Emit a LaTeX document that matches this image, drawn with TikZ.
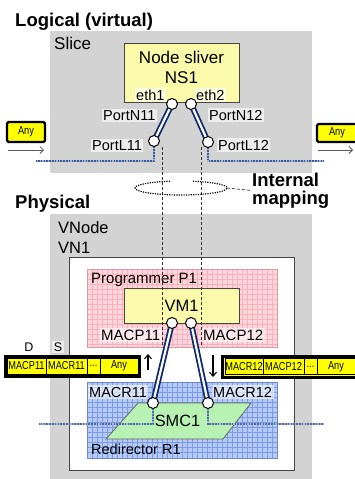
\documentclass[tikz,border=0pt]{standalone}
\usepackage{fontspec}
\setmainfont{Liberation Sans}
\usetikzlibrary{arrows.meta}

\definecolor{slicegray}{HTML}{D3D3D3}
\definecolor{nodeyellow}{HTML}{FAFAAA}
\definecolor{tagyellow}{HTML}{FFFF00}
\definecolor{navylink}{HTML}{0D2A6E}
\definecolor{boxedge}{HTML}{454545}
\definecolor{pinkfill}{HTML}{FFD6DC}
\definecolor{pinkline}{HTML}{F9B0BD}
\definecolor{pinkedge}{HTML}{D99AA4}
\definecolor{bluefill}{HTML}{B6CAF7}
\definecolor{blueline}{HTML}{7C9BE0}
\definecolor{blueedge}{HTML}{6C88C8}
\definecolor{greenfill}{HTML}{B8F2B3}
\definecolor{wirecol}{HTML}{3A5A9C}

\newcommand\nrw[1]{\scalebox{0.8}[1]{#1}}

\pgfdeclarelayer{back}
\pgfdeclarelayer{mid}
\pgfsetlayers{back,mid,main}

\tikzset{
  fsz/.style={font=\fontsize{#1}{20}\selectfont},
  bfsz/.style={font=\fontsize{#1}{18}\selectfont\bfseries},
  ybox/.style={draw=boxedge, fill=nodeyellow, line width=0.8pt, inner sep=0pt},
  port/.style={circle, draw=black, fill=white, line width=1pt, minimum size=11pt, inner sep=0pt},
  link/.style={draw=navylink, line width=1.8pt, double=white, double distance=2.2pt},
  lbl/.style={fill=white, fill opacity=0.6, text opacity=1, inner sep=1.5pt, fsz=14.5, anchor=base west},
  wire/.style={draw=wirecol, line width=2.4pt, dash pattern=on 1.6pt off 1.2pt,
    preaction={draw=wirecol!45, solid, line width=2.4pt}},
  guide/.style={draw=black!80, line width=0.7pt, dash pattern=on 3pt off 2pt},
  tag/.style={draw=black, line width=2.4pt, fill=tagyellow, rounded corners=1.5pt, inner sep=0pt},
  frame/.style={draw=black, line width=3pt, fill=tagyellow, inner sep=0pt},
  cell/.style={draw=black, line width=0.7pt, fill=tagyellow, inner sep=0pt, minimum height=16pt,
    font=\fontsize{11.5}{12}\selectfont},
  flow/.style={draw=black!65, line width=0.8pt, -{Straight Barb[length=3.5pt,width=7pt]}},
  dir/.style={draw=black, line width=1.1pt, -{Straight Barb[length=4pt,width=7pt]}},
}

\begin{document}
\begin{tikzpicture}[x=1pt,y=-1pt]
\useasboundingbox (0,0) rectangle (354,479);

% ---------- areas ----------
\begin{pgfonlayer}{back}
  \fill[slicegray] (50,31) rectangle (312,173);
  \fill[slicegray] (50,214) rectangle (312,479);
  \draw[fill=white, draw=boxedge, line width=0.8pt] (69,257) rectangle (294,470);
  % programmer area with grid
  \fill[pinkfill] (87,269) rectangle (277,347);
  \foreach \gx in {92,97,...,272} \draw[pinkline, line width=0.5pt] (\gx,269) -- (\gx,347);
  \foreach \gy in {274,279,...,344} \draw[pinkline, line width=0.5pt] (87,\gy) -- (277,\gy);
  \draw[pinkedge, line width=0.8pt] (87,269) rectangle (277,347);
  % redirector area with grid
  \fill[bluefill] (87,382) rectangle (277,458);
  \foreach \gx in {92,97,...,272} \draw[blueline, line width=0.5pt] (\gx,382) -- (\gx,458);
  \foreach \gy in {387,392,...,455} \draw[blueline, line width=0.5pt] (87,\gy) -- (277,\gy);
  \draw[blueedge, line width=0.8pt] (87,382) rectangle (277,458);
  % node sliver and VM
  \node[ybox, minimum width=115pt, minimum height=59pt] (ns) at (181.5,72.5) {};
  \node[ybox, minimum width=115pt, minimum height=35pt, fsz=16.5] (vm) at (181.5,305.5) {VM1};
  % switch
  \draw[fill=greenfill, draw=black!60, line width=0.8pt] (138,403) -- (251,403) -- (223,439) -- (106,439) -- cycle;
\end{pgfonlayer}

% ---------- headings and texts ----------
\node[bfsz=18.5, anchor=base west, inner sep=0pt] (hlog) at (15,26) {Logical (virtual)};
\node[fsz=17, anchor=base west, inner sep=0pt] (slice) at (54,49) {Slice};
\node[fsz=17, align=center, anchor=north, inner sep=0pt] (nstext) at (181.5,50.6) {Node sliver\\NS1};
\node[bfsz=18.5, anchor=base west, inner sep=0pt] (hphy) at (15,208) {Physical};
\node[fsz=16.5, align=left, anchor=north west, inner sep=0pt] (vnode) at (58,221) {VNode\\VN1};
\node[fsz=15, anchor=base west, inner sep=0pt] (prog) at (91,283) {Programmer P1};
\node[fsz=14.5, anchor=base west, inner sep=0pt] (redir) at (91,454) {Redirector R1};
\node[fsz=16.3, anchor=base, inner sep=0pt] (smc) at (177.5,426.7) {SMC1};
\node[bfsz=18.5, align=left, anchor=north west, inner sep=0pt] (imap) at (252,172.5) {Internal\\mapping};

% ---------- port labels ----------
\node[lbl] (leth1) at (134.5,100) {eth1};
\node[lbl] (leth2) at (194.5,100) {eth2};
\node[lbl] (lpn11) at (101.5,120) {PortN11};
\node[lbl] (lpl11) at (90.5,150) {PortL11};
\node[lbl] (lpn12) at (207.5,120) {PortN12};
\node[lbl] (lpl12) at (216.5,150) {PortL12};
\node[lbl, fsz=15] (lmp11) at (99.5,340) {MACP11};
\node[lbl, fsz=15] (lmp12) at (201.5,340) {MACP12};
\node[lbl, fsz=14.5] (lmr11) at (87.5,397) {MACR11};
\node[lbl, fsz=14.5] (lmr12) at (211.5,397) {MACR12};

% ---------- ports ----------
\node[port] (eth1) at (172,104) {};
\node[port] (eth2) at (191,104) {};
\node[port] (pl11) at (154,141) {};
\node[port] (pl12) at (208,142) {};
\node[port] (mp11) at (172,323) {};
\node[port] (mp12) at (191,323) {};
\node[port] (mr11) at (153,403) {};
\node[port] (mr12) at (208,403) {};

% ---------- links and wires ----------
\coordinate (wl1) at (36,161);
\coordinate (wr1) at (324,161);
\coordinate (wl2) at (39,424);
\coordinate (wr2) at (324,424);
\begin{pgfonlayer}{mid}
  \draw[link] (eth1.center) -- (pl11.center);
  \draw[link] (eth2.center) -- (pl12.center);
  \draw[link] (mp11.center) -- (mr11.center);
  \draw[link] (mp12.center) -- (mr12.center);
  \draw[wire] (pl11.center) |- (wl1);
  \draw[wire] (pl12.center) |- (wr1);
  \draw[wire, opacity=0.8] (mr11.center) |- (wl2);
  \draw[wire, opacity=0.8] (mr12.center) |- (wr2);
\end{pgfonlayer}

% ---------- mapping guides ----------
\coordinate (gl1) at (162,147);
\coordinate (gl2) at (162,346);
\coordinate (gr1) at (201,147);
\coordinate (gr2) at (201,346);
\draw[guide] (gl1) -- (gl2);
\draw[guide] (gr1) -- (gr2);
\draw[black, line width=1.2pt, dash pattern=on 1.2pt off 1.2pt]
  (181,188) ++(-75:46 and 7) arc[start angle=-75, end angle=256, x radius=46, y radius=7];
\coordinate (ellE) at (227,188);
\draw[guide] (ellE) -- ([xshift=-2pt]imap.west);

% ---------- external traffic (logical) ----------
\node[tag, minimum width=38pt, minimum height=20pt, font=\fontsize{11.5}{12}\selectfont] (anyL) at (26,132) {\nrw{Any}};
\node[tag, minimum width=40pt, minimum height=18pt, font=\fontsize{11.5}{12}\selectfont] (anyR) at (337,133) {\nrw{Any}};
\coordinate (fl1) at (8,150);
\coordinate (fl2) at (44,150);
\coordinate (fr1) at (318,150);
\coordinate (fr2) at (353,150);
\draw[flow] (fl1) -- (fl2);
\draw[flow] (fr1) -- (fr2);

% ---------- frames (physical) ----------
\node[frame, minimum width=134pt, minimum height=20pt] (pktL) at (72,366) {};
\node[cell, minimum width=39pt] (pL1) at (26.5,366) {\nrw{MACP11}};
\node[cell, minimum width=41pt] (pL2) at (66.5,366) {\nrw{MACR11}};
\node[cell, minimum width=13pt] (pL3) at (93.5,366) {\nrw{...}};
\node[cell, minimum width=38pt] (pL4) at (119,366) {\nrw{Any}};
\node[frame, minimum width=138pt, minimum height=21pt] (pktR) at (291,366.5) {};
\node[cell, minimum width=38pt] (pR1) at (244,366.5) {\nrw{MACR12}};
\node[cell, minimum width=41pt] (pR2) at (283.5,366.5) {\nrw{MACP12}};
\node[cell, minimum width=13pt] (pR3) at (310.5,366.5) {\nrw{...}};
\node[cell, minimum width=38pt] (pR4) at (336,366.5) {\nrw{Any}};
\node[fsz=12.5, anchor=base, inner sep=0pt] (dlab) at (29,351.5) {D};
\node[lbl, fsz=12.5, anchor=base] (slab) at (58,351.5) {S};
\coordinate (up1) at (148,370);
\coordinate (up2) at (148,354);
\coordinate (dn1) at (213,355);
\coordinate (dn2) at (213,377);
\draw[dir] (up1) -- (up2);
\draw[dir] (dn1) -- (dn2);
\end{tikzpicture}
\end{document}
